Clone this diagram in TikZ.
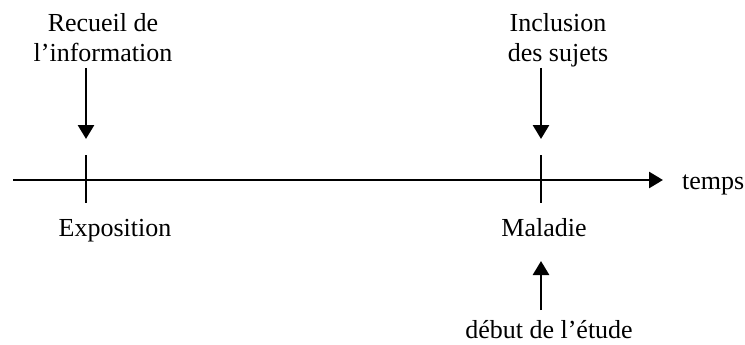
\documentclass[tikz,border=0pt]{standalone}
\usepackage{fontspec}
\setmainfont{Liberation Serif}
\usetikzlibrary{arrows.meta}
\begin{document}
\begin{tikzpicture}[x=1pt,y=-1pt,
  lbl/.style={font=\fontsize{26}{30}\selectfont, inner sep=0pt, anchor=base, align=center},
  line/.style={line width=2.6pt},
  tip/.style={-{Triangle[length=14pt,width=16pt]}, line width=2.6pt}]
  \useasboundingbox (0,0) rectangle (745,345);
  % time axis
  \coordinate (axstart) at (13,180);
  \coordinate (axend) at (663,180);
  \draw[tip] (axstart) -- (axend);
  \node[lbl, anchor=base west] (temps) at (682,189) {temps};
  % ticks
  \coordinate (expoTop) at (86,155);
  \coordinate (expoBot) at (86,203);
  \coordinate (malTop) at (541,155);
  \coordinate (malBot) at (541,203);
  \draw[line] (expoTop) -- (expoBot);
  \draw[line] (malTop) -- (malBot);
  % labels under the axis
  \node[lbl] (expo) at (115,236) {Exposition};
  \node[lbl] (maladie) at (544,236) {Maladie};
  % labels above the axis (base anchor sits on the last line)
  \node[lbl] (recueil) at (103,62) {Recueil de\\l’information};
  \node[lbl] (inclusion) at (558,62) {Inclusion\\des sujets};
  \node[lbl] (debut) at (549,338) {début de l’étude};
  % arrows
  \coordinate (a1s) at (86,68);
  \coordinate (a1e) at (86,139);
  \coordinate (a2s) at (541,68);
  \coordinate (a2e) at (541,139);
  \coordinate (a3s) at (541,310);
  \coordinate (a3e) at (541,261);
  \draw[tip] (a1s) -- (a1e);
  \draw[tip] (a2s) -- (a2e);
  \draw[tip] (a3s) -- (a3e);
\end{tikzpicture}
\end{document}
